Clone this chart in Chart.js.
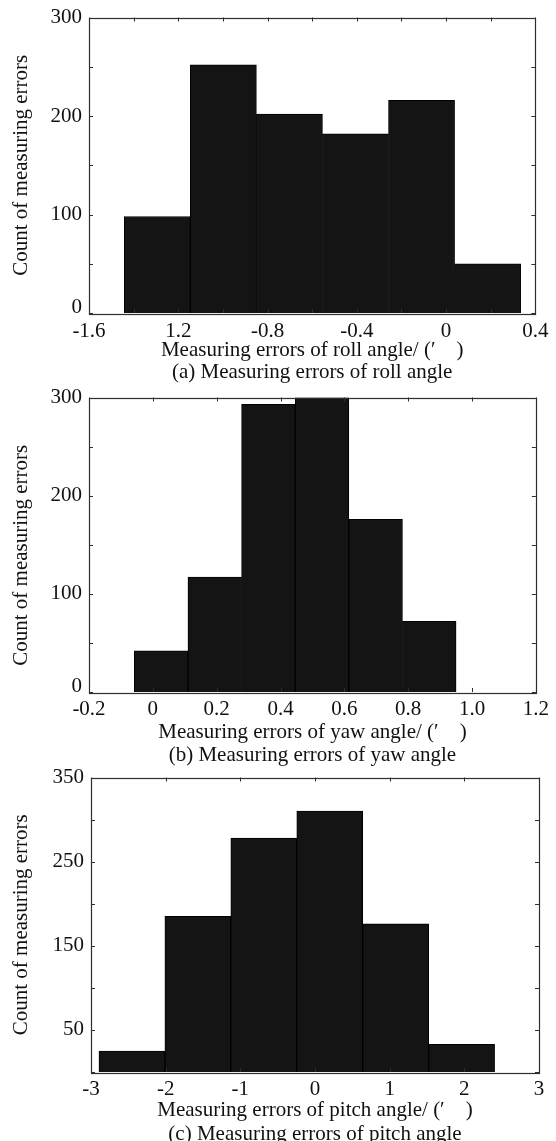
<!DOCTYPE html>
<html>
<head>
<meta charset="utf-8">
<title>Measuring error histograms</title>
<script src="https://cdn.jsdelivr.net/npm/chart.js@4.4.1/dist/chart.umd.min.js"></script>
<style>
  html, body { margin: 0; padding: 0; background: #ffffff; }
  body { position: relative; width: 556px; height: 1141px; overflow: hidden; }
  canvas { position: absolute; left: 0; }
</style>
</head>
<body>
<canvas id="rollChart" width="556" height="392" style="top:0px"></canvas>
<canvas id="yawChart" width="556" height="392" style="top:380px"></canvas>
<canvas id="pitchChart" width="556" height="392" style="top:760px"></canvas>
<script>
// ---- Data: histogram bin centres (equal-width bins) and counts ----
const rollBinCenters = [-1.294, -0.998, -0.702, -0.406, -0.110, 0.186];
const rollCounts = [98, 252, 202, 182, 216, 50];

const yawBinCenters = [0.026, 0.194, 0.362, 0.530, 0.698, 0.866];
const yawCounts = [42, 117, 293, 300, 176, 72];

const pitchBinCenters = [-2.452, -1.569, -0.686, 0.198, 1.081, 1.964];
const pitchCounts = [25, 185, 278, 310, 176, 33];

// ---- Tick labels ----
const rollTickValues = [-1.6, -1.2, -0.8, -0.4, 0, 0.4];
const rollTickLabels = ['-1.6', '1.2', '-0.8', '-0.4', '0', '0.4'];

const yawTickValues = [-0.2, 0, 0.2, 0.4, 0.6, 0.8, 1.0, 1.2];
const yawTickLabels = ['-0.2', '0', '0.2', '0.4', '0.6', '0.8', '1.0', '1.2'];

const pitchTickValues = [-3, -2, -1, 0, 1, 2, 3];
const pitchTickLabels = ['-3', '-2', '-1', '0', '1', '2', '3'];

const countTickValuesAB = [0, 100, 200, 300];
const countTickLabelsAB = ['0', '100', '200', '300'];
const countTickValuesC = [50, 150, 250, 350];
const countTickLabelsC = ['50', '150', '250', '350'];

// ---- Styling ----
const FONT = "'Liberation Serif', 'Times New Roman', Times, serif";
const FONT_SIZE = 21;
const INK = '#111111';
const FRAME = '#2e2e2e';
const BAR_FILL = '#141414';
const BAR_EDGE = '#000000';

// Returns a tick callback that prints only the listed values.
// A zero label can be lifted off the corner by giving it an empty second line.
function labelFor(values, labels, liftZero) {
  return function (value) {
    for (let i = 0; i < values.length; i++) {
      if (Math.abs(value - values[i]) < 1e-6) {
        return (liftZero && value === 0) ? [labels[i], ''] : labels[i];
      }
    }
    return '';
  };
}

// Box frame plus inward tick marks on all four sides, placed by the scales.
const boxFramePlugin = {
  id: 'boxFrame',
  afterDatasetsDraw(chart) {
    const { ctx, chartArea: a, scales } = chart;
    const x = scales.x, y = scales.y;
    const len = 4;
    ctx.save();
    ctx.strokeStyle = FRAME;
    ctx.lineWidth = 1;
    ctx.beginPath();
    x.ticks.forEach(t => {
      const px = Math.round(x.getPixelForValue(t.value)) + 0.5;
      ctx.moveTo(px, a.top); ctx.lineTo(px, a.top + len);
      ctx.moveTo(px, a.bottom); ctx.lineTo(px, a.bottom - len);
    });
    y.ticks.forEach(t => {
      const py = Math.round(y.getPixelForValue(t.value)) + 0.5;
      ctx.moveTo(a.left, py); ctx.lineTo(a.left + len, py);
      ctx.moveTo(a.right, py); ctx.lineTo(a.right - len, py);
    });
    ctx.stroke();
    ctx.lineWidth = 1.2;
    ctx.strokeRect(Math.round(a.left) + 0.5, Math.round(a.top) + 0.5,
                   Math.round(a.right - a.left), Math.round(a.bottom - a.top));
    ctx.restore();
  }
};

function makeHistogram(canvasId, spec) {
  const g = spec.geom;
  const H = 392;
  const half = FONT_SIZE / 2;
  const xScaleHeight = g.xTitleCenter + half - g.bottom;
  const captionPadTop = g.captionCenter - half - (g.xTitleCenter + half);
  const bottomPad = H - (g.captionCenter + half);

  const points = spec.centers.map((c, i) => ({ x: c, y: spec.counts[i] }));

  return new Chart(document.getElementById(canvasId), {
    type: 'bar',
    data: {
      datasets: [{
        data: points,
        backgroundColor: BAR_FILL,
        borderColor: BAR_EDGE,
        borderWidth: 1,
        barThickness: 'flex',
        categoryPercentage: 1,
        barPercentage: 1
      }]
    },
    options: {
      responsive: false,
      animation: false,
      devicePixelRatio: 1,
      layout: { padding: { left: 0, right: 556 - g.right, top: g.top, bottom: bottomPad } },
      plugins: {
        legend: { display: false },
        tooltip: { enabled: false },
        title: {
          display: true,
          position: 'bottom',
          fullSize: false,
          text: spec.caption,
          color: INK,
          font: { family: FONT, size: FONT_SIZE, weight: 'normal', lineHeight: 1 },
          padding: { top: captionPadTop, bottom: 0 }
        }
      },
      scales: {
        x: {
          type: 'linear',
          offset: false,
          min: spec.xMin,
          max: spec.xMax,
          grid: { display: false, drawTicks: false },
          border: { display: false },
          ticks: {
            stepSize: spec.xStep,
            autoSkip: false,
            maxRotation: 0,
            minRotation: 0,
            padding: g.xLabelGap - half,
            color: INK,
            font: { family: FONT, size: FONT_SIZE, lineHeight: 1 },
            callback: labelFor(spec.xTickValues, spec.xTickLabels, false)
          },
          title: {
            display: true,
            text: spec.xTitle,
            color: INK,
            font: { family: FONT, size: FONT_SIZE, lineHeight: 1 },
            padding: { top: 0, bottom: 0 }
          },
          afterFit(scale) { scale.height = xScaleHeight; }
        },
        y: {
          min: 0,
          max: spec.yMax,
          grid: { display: false, drawTicks: false },
          border: { display: false },
          ticks: {
            stepSize: 50,
            autoSkip: false,
            padding: 7,
            color: INK,
            // the lifted zero uses a short line height so it rises only a few pixels
            font: (ctx) => ({
              family: FONT, size: FONT_SIZE,
              lineHeight: (ctx.tick && ctx.tick.value === 0) ? 0.5 : 1
            }),
            callback: labelFor(spec.yTickValues, spec.yTickLabels, true)
          },
          title: {
            display: true,
            text: spec.yTitle,
            color: INK,
            font: { family: FONT, size: FONT_SIZE, lineHeight: 1 },
            padding: { top: 11, bottom: 0 }
          },
          afterFit(scale) { scale.width = g.left; }
        }
      }
    },
    plugins: [boxFramePlugin]
  });
}

makeHistogram('rollChart', {
  centers: rollBinCenters, counts: rollCounts,
  xMin: -1.6, xMax: 0.4, xStep: 0.2,
  xTickValues: rollTickValues, xTickLabels: rollTickLabels,
  yMax: 300, yTickValues: countTickValuesAB, yTickLabels: countTickLabelsAB,
  yTitle: 'Count of measuring errors',
  xTitle: 'Measuring errors of roll angle/ (\u2032\u2003)',
  caption: '(a) Measuring errors of roll angle',
  geom: { left: 89, right: 538, top: 15, bottom: 313, xLabelGap: 18, xTitleCenter: 350.5, captionCenter: 372 }
});

makeHistogram('yawChart', {
  centers: yawBinCenters, counts: yawCounts,
  xMin: -0.2, xMax: 1.2, xStep: 0.2,
  xTickValues: yawTickValues, xTickLabels: yawTickLabels,
  yMax: 300, yTickValues: countTickValuesAB, yTickLabels: countTickLabelsAB,
  // trailing spaces push this title a little below the axis centre
  yTitle: 'Count of measuring errors\u2002\u2002',
  xTitle: 'Measuring errors of yaw angle/ (\u2032\u2003)',
  caption: '(b) Measuring errors of yaw angle',
  geom: { left: 89, right: 538, top: 14, bottom: 312, xLabelGap: 17.5, xTitleCenter: 352, captionCenter: 375 }
});

makeHistogram('pitchChart', {
  centers: pitchBinCenters, counts: pitchCounts,
  xMin: -3, xMax: 3, xStep: 1,
  xTickValues: pitchTickValues, xTickLabels: pitchTickLabels,
  yMax: 350, yTickValues: countTickValuesC, yTickLabels: countTickLabelsC,
  yTitle: 'Count of measuring errors',
  xTitle: 'Measuring errors of pitch angle/ (\u2032\u2003)',
  caption: '(c) Measuring errors of pitch angle',
  geom: { left: 91, right: 539, top: 14, bottom: 312, xLabelGap: 17, xTitleCenter: 350, captionCenter: 374.5 }
});
</script>
</body>
</html>
